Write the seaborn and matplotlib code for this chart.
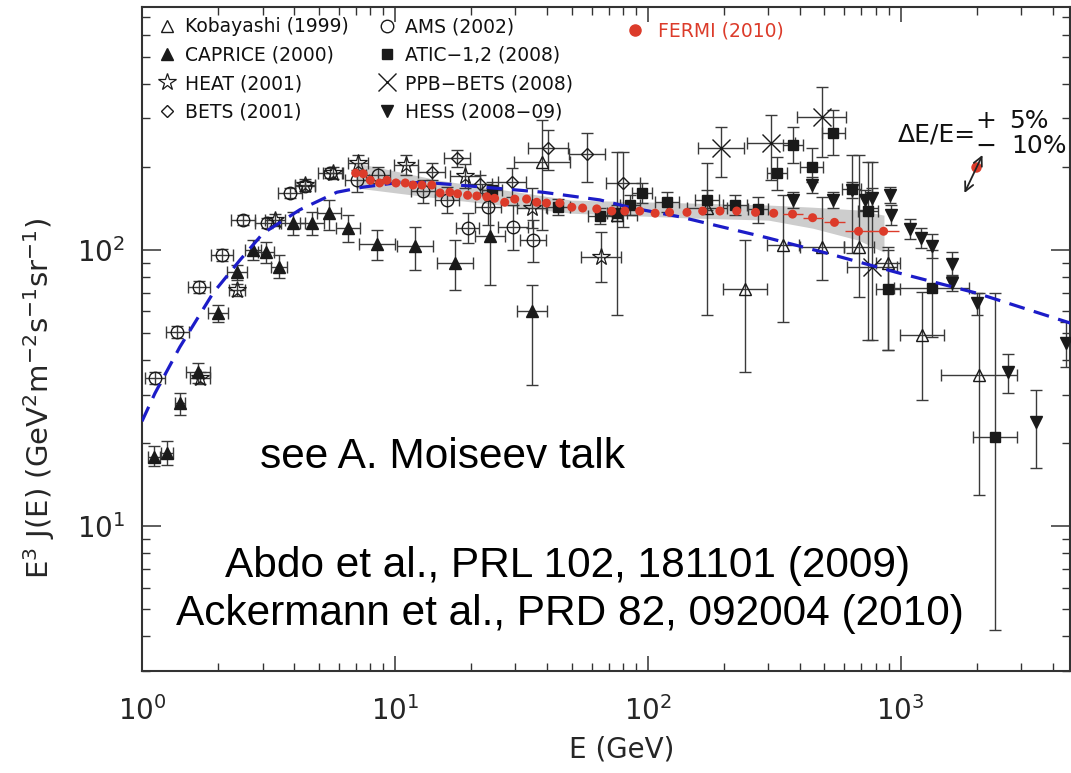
import numpy as np
import matplotlib
matplotlib.use('Agg')
import matplotlib.pyplot as plt
import seaborn as sns
from matplotlib.lines import Line2D
from matplotlib.ticker import LogLocator, LogFormatterSciNotation, NullFormatter

sns.set_theme(style='ticks')
plt.rcParams['font.family'] = ['DejaVu Sans']
plt.rcParams['mathtext.fontset'] = 'dejavusans'
plt.rcParams['text.color'] = '#111111'

# ---------------- data ----------------
# FERMI (2010)
fermi_E = [7.0, 7.5, 8.0, 8.7, 9.3, 10.1, 11.0, 11.8, 12.8, 14.0, 15.1, 16.5, 17.7, 19.4,
           21.1, 23.1, 24.8, 27.2, 29.8, 33.2, 36.4, 39.8, 44.9, 50.1, 55.3, 62.9, 72.1,
           81.2, 93.0, 107, 122, 143, 165, 193, 225, 267, 315, 374, 449, 548, 682, 857]
fermi_F = [190, 189, 179, 175, 179, 175, 175, 172, 172, 172, 161, 162, 160, 158,
           157, 156, 154, 149, 153, 153, 149, 148, 148, 143, 142, 141, 138.5,
           138.5, 138.5, 136, 137, 137, 138.5, 138.5, 138.5, 137, 136, 135, 131, 126, 117, 117]
fermi_bin_E = [374, 449, 548, 682, 857]
fermi_bin_lo = [342, 410, 497, 605, 748]
fermi_bin_hi = [410, 492, 604, 769, 982]
band_E = [7.0, 15, 50, 150, 300, 450, 680, 860]
band_lo = [168, 154, 136, 130.6, 128.4, 120, 108.7, 98.3]
band_hi = [207, 179, 151.7, 148, 145.6, 143, 139.7, 133.8]

# model curve (blue dashed)
model_E = [1.0, 1.125, 1.41, 1.91, 2.44, 3.01, 4.21, 5.9, 7.47, 10.5, 14.1, 19.3,
           38.5, 64.6, 87.2, 134, 295, 510, 991, 1995, 4700]
model_F = [24.0, 30.3, 44.5, 69.9, 92, 115, 140, 162, 169, 176, 175, 171,
           162, 152, 142, 132, 111, 97.5, 82.5, 69.9, 54.4]

# AMS (2002)
ams_E = [1.125, 1.375, 1.68, 2.07, 2.51, 3.12, 3.85, 4.41, 5.53, 7.08, 8.57, 12.9, 16.05, 19.4, 23.3, 29.3, 35.1]
ams_F = [34.4, 50.5, 73.4, 95.9, 128.4, 125.2, 160.9, 170.6, 190, 179.3, 187, 163.6, 151.8, 120.2, 143.2, 121.1, 108.7]
ams_Elo = [1.03, 1.24, 1.52, 1.87, 2.25, 2.80, 3.45, 4.03, 4.96, 6.35, 7.69, 11.6, 14.4, 17.4, 20.7, 25.6, 31.2]
ams_Ehi = [1.23, 1.53, 1.86, 2.30, 2.80, 3.48, 4.29, 4.83, 6.17, 7.89, 9.56, 14.4, 17.9, 21.6, 26.2, 33.6, 39.5]
ams_Flo = [32.7, 48.0, 69.8, 91.2, 123.1, 120.0, 154.3, 163.6, 182, 162, 175, 148, 136.2, 106, 123.2, 100, 90.5]
ams_Fhi = [36.2, 53.1, 77.2, 100.8, 133.9, 130.6, 167.8, 177.9, 198, 195, 200, 179.3, 169, 136.2, 165, 145.6, 128.4]

# CAPRICE (2000)
cap_E = [1.115, 1.256, 1.413, 1.665, 2.0, 2.375, 2.75, 3.09, 3.48, 3.95, 4.7, 5.49, 6.52, 8.49, 12.0, 17.3, 23.7, 34.8]
cap_F = [17.8, 18.4, 27.9, 36.1, 59.1, 83.2, 100, 98.3, 86.8, 125.2, 125.2, 136.2, 120.2, 105.1, 103.4, 89.7, 112.4, 60.1]
cap_Elo = [1.056, 1.19, 1.351, 1.49, 1.83, 2.17, 2.56, 2.87, 3.24, 3.54, 4.22, 4.92, 5.85, 7.21, 10.2, 14.7, 20.7, 30.4]
cap_Ehi = [1.177, 1.326, 1.478, 1.86, 2.19, 2.60, 2.96, 3.32, 3.74, 4.40, 5.24, 6.12, 7.27, 10.0, 14.1, 20.4, 27.2, 39.9]
cap_Flo = [16.5, 16.6, 25.2, 33.0, 54.8, 77.8, 92, 89.7, 79.1, 113.3, 113.3, 118.1, 106.9, 92, 84.6, 71.6, 74.7, 32.4]
cap_Fhi = [19.5, 20.3, 30.3, 38.9, 63.2, 88.3, 108.7, 106.9, 95.9, 137.3, 137.3, 151.8, 133.9, 118.1, 121.1, 108.7, 151.8, 74.7]

# HEAT (2001)
heat_E = [1.695, 2.375, 3.36, 4.41, 5.69, 7.14, 11.05, 18.9, 34.8, 65.2]
heat_F = [34.4, 71.6, 128.4, 172, 190, 206.6, 203.2, 185.4, 142, 94.3]
heat_Elo = [1.55, 2.21, 3.07, 4.03, 5.2, 6.52, 9.91, 16.5, 30.4, 54.3]
heat_Ehi = [1.86, 2.55, 3.68, 4.83, 6.23, 7.82, 12.3, 21.7, 39.9, 78.2]
heat_Flo = [32.7, 68.1, 122.2, 163.7, 180.8, 193.3, 187, 167.8, 120.2, 76.5]
heat_Fhi = [36.2, 75.3, 135, 180.8, 199.7, 220.8, 220.9, 204.9, 167.7, 116.2]

# BETS (2001)
bets_E = [14.0, 17.6, 21.7, 29.0, 40.3, 57.4, 79.7]
bets_F = [191.7, 215.4, 173.4, 176.3, 234.2, 222.7, 175]
bets_Elo = [12.4, 15.6, 19.5, 25.5, 33.6, 48.7, 68.3]
bets_Ehi = [15.8, 19.8, 24.2, 32.9, 48.4, 67.6, 93]
bets_Flo = [179.3, 199.8, 160.9, 155.6, 195, 176.3, 121.1]
bets_Fhi = [206.6, 230.3, 187, 198.2, 272.2, 265.4, 226.4]

# Kobayashi (1999)
kob_E = [38.1, 75.4, 171, 241.7, 341.8, 487, 688, 888.6, 1211, 2052]
kob_F = [208.4, 133.9, 142, 72.3, 104.2, 102.5, 102.5, 89.7, 49.2, 35.2]
kob_Elo = [29.5, 62.8, 142.5, 197.8, 295.4, 398.5, 600, 797, 991, 1452]
kob_Ehi = [49.2, 90.5, 205, 295.3, 395.5, 595, 788, 991, 1480, 2900]
kob_Flo = [118.1, 58.2, 58.2, 36.1, 54.8, 77.8, 67.6, 43.4, 28.6, 12.95]
kob_Fhi = [295.8, 226.4, 206.6, 108.7, 158.2, 155.6, 220.8, 102.5, 70.4, 69.9]

# ATIC-1,2 (2008)
atic_E = [24.2, 44.1, 64.6, 75.4, 84.9, 94.6, 118.9, 171, 220.6, 272, 323.6, 374.5, 444.6, 543, 640, 740.6, 888.6, 1326, 2374]
atic_F = [165, 143.2, 132.9, 136.2, 145.6, 160.9, 149.3, 151.8, 145.6, 140.8, 190, 240, 199.8, 265.4, 166.3, 138.5, 72.3, 72.9, 21.0]
atic_Elo = [22.1, 39.6, 57.9, 68.9, 77.5, 86.4, 106.6, 153.4, 197.8, 248.4, 295.5, 342, 398.7, 487, 584.5, 676.3, 797, 938.4, 1943]
atic_Ehi = [26.5, 49.2, 72, 82.6, 93, 103.6, 132.6, 190.7, 246, 297.8, 354.3, 410, 495.7, 605.4, 700.8, 811, 990.8, 1873.6, 2901]
atic_Flo = [154.4, 134, 124.3, 127.4, 134, 148, 137.4, 139.7, 133.9, 125.2, 165, 206.6, 176.3, 220.8, 97.5, 47.2, 43.4, 48.4, 4.2]
atic_Fhi = [176.4, 153.1, 142.1, 145.6, 158.3, 174.9, 162.3, 165, 158.2, 155.6, 217.3, 279, 234.2, 321.4, 220.8, 208.4, 100, 100, 69.9]

# PPB-BETS (2008)
ppb_E = [194.3, 306.4, 487, 768]
ppb_F = [234.2, 244.2, 303.3, 86.8]
ppb_Elo = [157.6, 246.3, 388, 612]
ppb_Ehi = [239.6, 381, 611, 964]
ppb_Flo = [183.9, 179.3, 217.3, 47.2]
ppb_Fhi = [279, 308.5, 389.5, 208.4]

# HESS (2008-09)
hess_E = [374.5, 444.6, 538.5, 640, 720.6, 768, 904.5, 920.6, 1095, 1200, 1326, 1591, 1591, 2014, 2650, 3447, 4530]
hess_F = [151.8, 172, 151.8, 165, 151.8, 154.3, 158.2, 133.9, 119.2, 110.5, 103.4, 89.0, 75.9, 64.3, 36.1, 23.8, 46.0]
hess_Flo = [142, 160.9, 142, 154.4, 139.7, 142, 148, 123.2, 109.7, 101.7, 93.6, 80.5, 71, 58.2, 30.3, 16.2, 37.7]
hess_Fhi = [162.3, 183.9, 162.3, 176.4, 165, 167.7, 169.1, 145.6, 129.6, 120.1, 114.3, 98.3, 81.1, 69.9, 42, 31.1, 54.8]

# energy-scale indicator
escale_E = [1996]
escale_F = [199.8]
escale_arrow_E = [1790, 2109]
escale_arrow_F = [161, 221]

legend_labels = ['Kobayashi (1999)', 'CAPRICE (2000)', 'HEAT (2001)', 'BETS (2001)',
                 'AMS (2002)', 'ATIC\u22121,2 (2008)', 'PPB\u2212BETS (2008)', 'HESS (2008\u221209)']
fermi_label = 'FERMI (2010)'

RED = '#dc3b2a'
BLUE = '#1c1cc8'
EC = '#3a3a3a'

# ---------------- figure ----------------
fig = plt.figure(figsize=(10.71, 7.73), dpi=100)
ax = fig.add_axes([142 / 1071, 1 - 670.7 / 773, 928 / 1071, 663.4 / 773])
ax.set_xscale('log')
ax.set_yscale('log')
ax.set_xlim(1, 4680)
ax.set_ylim(3, 757)

ax.fill_between(band_E, band_lo, band_hi, color='#cdcdcd', lw=0, zorder=1)


def draw(E, F, Elo, Ehi, Flo, Fhi, **mk):
    E = np.asarray(E, float)
    F = np.asarray(F, float)
    xerr = None
    if Elo is not None:
        xerr = [E - np.asarray(Elo, float), np.asarray(Ehi, float) - E]
    yerr = [F - np.asarray(Flo, float), np.asarray(Fhi, float) - F]
    ax.errorbar(E, F, xerr=xerr, yerr=yerr, fmt='none', ecolor=EC, elinewidth=1.0,
                capsize=4, capthick=1.0, zorder=2)
    ax.plot(E, F, ls='none', zorder=3, **mk)


mk_kob = dict(marker='^', ms=9, mfc='none', mec='k', mew=1.0)
mk_cap = dict(marker='^', ms=8.5, mfc='k', mec='k', mew=1.0)
mk_heat = dict(marker='*', ms=13, mfc='none', mec='k', mew=0.9)
mk_bets = dict(marker='D', ms=6.5, mfc='none', mec='k', mew=1.0)
mk_ams = dict(marker='o', ms=9, mfc='none', mec='k', mew=1.0)
mk_atic = dict(marker='s', ms=7, mfc='k', mec='k', mew=1.0)
mk_ppb = dict(marker='x', ms=13, mfc='none', mec='k', mew=1.0)
mk_hess = dict(marker='v', ms=9, mfc='k', mec='k', mew=1.0)

draw(ams_E, ams_F, ams_Elo, ams_Ehi, ams_Flo, ams_Fhi, **mk_ams)
draw(cap_E, cap_F, cap_Elo, cap_Ehi, cap_Flo, cap_Fhi, **mk_cap)
draw(heat_E, heat_F, heat_Elo, heat_Ehi, heat_Flo, heat_Fhi, **mk_heat)
draw(bets_E, bets_F, bets_Elo, bets_Ehi, bets_Flo, bets_Fhi, **mk_bets)
draw(kob_E, kob_F, kob_Elo, kob_Ehi, kob_Flo, kob_Fhi, **mk_kob)
draw(atic_E, atic_F, atic_Elo, atic_Ehi, atic_Flo, atic_Fhi, **mk_atic)
draw(ppb_E, ppb_F, ppb_Elo, ppb_Ehi, ppb_Flo, ppb_Fhi, **mk_ppb)
draw(hess_E, hess_F, None, None, hess_Flo, hess_Fhi, **mk_hess)

# model curve
sns.lineplot(x=model_E, y=model_F, ax=ax, color=BLUE, lw=2.3, linestyle=(0, (5, 3)),
             sort=False, estimator=None, zorder=4)

# FERMI
fb = np.asarray(fermi_bin_E, float)
fermi_F_arr = np.asarray(fermi_F, float)
ax.errorbar(fb, fermi_F_arr[-len(fb):], xerr=[fb - np.asarray(fermi_bin_lo), np.asarray(fermi_bin_hi) - fb],
            fmt='none', ecolor=RED, elinewidth=1.0, capsize=0, zorder=5)
sns.scatterplot(x=fermi_E, y=fermi_F, ax=ax, color=RED, s=42, edgecolor='none', zorder=6)

# energy-scale indicator
ax.plot(escale_E, escale_F, ls='none', marker='o', ms=6.5, color=RED, zorder=6)
ax.annotate('', xy=(escale_arrow_E[1], escale_arrow_F[1]), xytext=(escale_arrow_E[0], escale_arrow_F[0]),
            arrowprops=dict(arrowstyle='<->', color='#222222', lw=1.3, shrinkA=0, shrinkB=0,
                            mutation_scale=16), zorder=6)
ax.text(0.8988, 0.808, '\u0394E/E=', transform=ax.transAxes, ha='right', va='center', fontsize=18)
ax.text(0.9096, 0.829, '+', transform=ax.transAxes, ha='center', va='center', fontsize=18)
ax.text(0.9343, 0.829, '5%', transform=ax.transAxes, ha='left', va='center', fontsize=18)
ax.text(0.9096, 0.791, '\u2212', transform=ax.transAxes, ha='center', va='center', fontsize=18)
ax.text(0.9365, 0.791, '10%', transform=ax.transAxes, ha='left', va='center', fontsize=18)

# big annotations
big = dict(transform=ax.transAxes, ha='center', va='center', fontsize=30.5,
           family=['Liberation Sans', 'DejaVu Sans'], color='black')
ax.text(0.3235, 0.322, 'see A. Moiseev talk', **big)
ax.text(0.459, 0.158, 'Abdo et al., PRL 102, 181101 (2009)', **big)
ax.text(0.461, 0.086, 'Ackermann et al., PRD 82, 092004 (2010)', **big)

# legends
handles = [Line2D([], [], ls='none', **m) for m in
           (mk_kob, mk_cap, mk_heat, mk_bets, mk_ams, mk_atic, mk_ppb, mk_hess)]
leg1 = ax.legend(handles, legend_labels, ncol=2, loc='upper left', bbox_to_anchor=(0.0168, 0.985),
                 frameon=False, fontsize=13.5, handlelength=1.0, handletextpad=0.46,
                 columnspacing=1.53, labelspacing=0.5, borderpad=0, borderaxespad=0)
ax.add_artist(leg1)
fh = Line2D([], [], ls='none', marker='o', ms=8, mfc=RED, mec=RED)
leg2 = ax.legend([fh], [fermi_label], loc='upper left', bbox_to_anchor=(0.5216, 0.978),
                 frameon=False, fontsize=13.5, handlelength=1.0, handletextpad=0.7,
                 borderpad=0, borderaxespad=0)
for t in leg2.get_texts():
    t.set_color(RED)

# axes styling
for axis in (ax.xaxis, ax.yaxis):
    axis.set_major_locator(LogLocator(base=10, numticks=10))
    axis.set_minor_locator(LogLocator(base=10, subs=np.arange(2, 10), numticks=100))
    axis.set_major_formatter(LogFormatterSciNotation())
    axis.set_minor_formatter(NullFormatter())
ax.tick_params(which='both', direction='in', top=True, right=True, color='#333333')
ax.tick_params(axis='x', which='major', length=11, width=1.1, labelsize=20, pad=18)
ax.tick_params(axis='x', which='minor', length=5.5, width=1.0)
ax.tick_params(axis='y', which='major', length=13.5, width=1.1, labelsize=20, pad=12)
ax.tick_params(axis='y', which='minor', length=6, width=1.0)
for s in ax.spines.values():
    s.set_color('#333333')
    s.set_linewidth(1.5)
ax.grid(False)

ax.set_xlabel('E (GeV)', fontsize=20)
ax.xaxis.set_label_coords(0.517, -0.097)
ax.set_ylabel(r'E$^{3}$ J(E) (GeV$^{2}$m$^{-2}$s$^{-1}$sr$^{-1}$)', fontsize=21)
ax.yaxis.set_label_coords(-0.092, 0.41)

fig.savefig('out.png', dpi=100)
